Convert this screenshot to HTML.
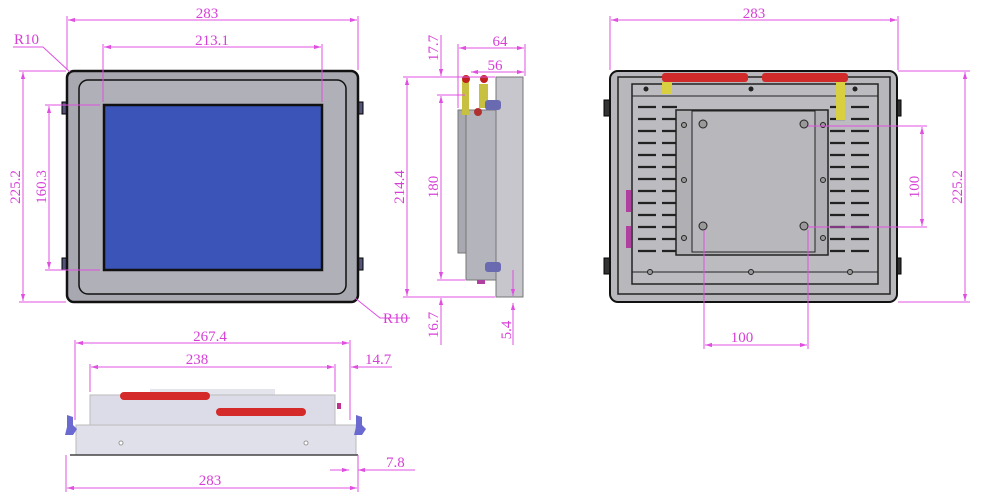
<!DOCTYPE html>
<html><head><meta charset="utf-8"><style>
html,body{margin:0;padding:0;background:#fff}
svg{display:block}
text{font-family:"Liberation Serif",serif;font-size:15px;fill:#d63fd6}
.d{stroke:#e050e0;stroke-width:1;fill:none}
</style></head><body>
<svg width="982" height="501" viewBox="0 0 982 501" xmlns="http://www.w3.org/2000/svg">
<defs>
<marker id="a" viewBox="0 0 10 10" refX="10" refY="5" markerWidth="7" markerHeight="7" orient="auto-start-reverse"><path d="M0,2 L10,5 L0,8z" fill="#e050e0"/></marker>
</defs>

<!-- FRONT VIEW -->
<rect x="62" y="102" width="6" height="12" fill="#55557a" stroke="#000"/>
<rect x="62" y="258" width="6" height="12" fill="#55557a" stroke="#000"/>
<rect x="357" y="102" width="6" height="12" fill="#55557a" stroke="#000"/>
<rect x="357" y="258" width="6" height="12" fill="#55557a" stroke="#000"/>
<rect x="67" y="71" width="291" height="231" rx="7" fill="#a8a8b0" stroke="#111" stroke-width="2.5"/>
<rect x="79" y="80" width="267" height="214" rx="9" fill="#b0b0b8" stroke="#111" stroke-width="1.5"/>
<rect x="104" y="105" width="218" height="165" fill="#3b54b8" stroke="#111" stroke-width="2.5"/>
<g class="d">
<line x1="67" y1="16" x2="67" y2="70"/><line x1="358" y1="16" x2="358" y2="70"/>
<line x1="68" y1="20" x2="357" y2="20" marker-start="url(#a)" marker-end="url(#a)"/>
<line x1="103" y1="44" x2="103" y2="102"/><line x1="322" y1="44" x2="322" y2="102"/>
<line x1="104" y1="47" x2="321" y2="47" marker-start="url(#a)" marker-end="url(#a)"/>
<line x1="19" y1="71" x2="66" y2="71"/><line x1="19" y1="302" x2="66" y2="302"/>
<line x1="23" y1="72" x2="23" y2="301" marker-start="url(#a)" marker-end="url(#a)"/>
<line x1="45" y1="105" x2="100" y2="105"/><line x1="45" y1="270" x2="100" y2="270"/>
<line x1="49" y1="106" x2="49" y2="269" marker-start="url(#a)" marker-end="url(#a)"/>
<polyline points="13,47 43,47 70,72"/>
<polyline points="355,298 380,318 410,318"/>
</g>
<text x="207" y="18" text-anchor="middle">283</text>
<text x="212" y="45" text-anchor="middle">213.1</text>
<text x="14" y="44">R10</text>
<text x="383" y="323">R10</text>
<text transform="translate(20,187) rotate(-90)" text-anchor="middle">225.2</text>
<text transform="translate(46,187) rotate(-90)" text-anchor="middle">160.3</text>

<!-- SIDE VIEW -->
<rect x="458" y="110" width="10" height="143" fill="#a8a8b0" stroke="#777"/>
<rect x="466" y="110" width="30" height="170" fill="#b4b4bc" stroke="#777"/>
<rect x="496" y="77" width="27" height="220" fill="#c6c6cc" stroke="#777"/>
<rect x="462" y="80" width="7" height="35" fill="#c8c040"/>
<rect x="479" y="84" width="9" height="24" fill="#c8c040"/>
<circle cx="466" cy="79" r="4" fill="#c02020"/>
<circle cx="484" cy="79" r="4" fill="#c02020"/>
<circle cx="478" cy="112" r="4" fill="#b03030"/>
<rect x="485" y="100" width="16" height="10" rx="3" fill="#6a6ab0"/>
<rect x="485" y="262" width="16" height="10" rx="3" fill="#6a6ab0"/>
<rect x="477" y="280" width="8" height="4" fill="#b040a0"/>
<g class="d">
<line x1="458" y1="44" x2="458" y2="108"/><line x1="525" y1="44" x2="525" y2="76"/>
<line x1="459" y1="48" x2="524" y2="48" marker-start="url(#a)" marker-end="url(#a)"/>
<line x1="471" y1="72" x2="524" y2="72" marker-start="url(#a)" marker-end="url(#a)"/>
<line x1="403" y1="77" x2="495" y2="77"/><line x1="403" y1="297" x2="495" y2="297"/>
<line x1="407" y1="78" x2="407" y2="296" marker-start="url(#a)" marker-end="url(#a)"/>
<line x1="437" y1="95" x2="465" y2="95"/><line x1="437" y1="280" x2="465" y2="280"/>
<line x1="441" y1="35" x2="441" y2="76" marker-end="url(#a)"/>
<line x1="441" y1="96" x2="441" y2="279" marker-start="url(#a)" marker-end="url(#a)"/>
<line x1="441" y1="298" x2="441" y2="345" marker-start="url(#a)"/>
<line x1="513" y1="270" x2="513" y2="296" marker-end="url(#a)"/>
<line x1="513" y1="303" x2="513" y2="345" marker-start="url(#a)"/>
</g>
<text x="500" y="46" text-anchor="middle">64</text>
<text x="495" y="70" text-anchor="middle">56</text>
<text transform="translate(438,48) rotate(-90)" text-anchor="middle">17.7</text>
<text transform="translate(404,187) rotate(-90)" text-anchor="middle">214.4</text>
<text transform="translate(438,187) rotate(-90)" text-anchor="middle">180</text>
<text transform="translate(438,325) rotate(-90)" text-anchor="middle">16.7</text>
<text transform="translate(511,330) rotate(-90)" text-anchor="middle">5.4</text>

<!-- BACK VIEW -->
<rect x="604" y="100" width="8" height="16" fill="#333" stroke="#000"/>
<rect x="604" y="258" width="8" height="16" fill="#333" stroke="#000"/>
<rect x="893" y="100" width="8" height="16" fill="#333" stroke="#000"/>
<rect x="893" y="258" width="8" height="16" fill="#333" stroke="#000"/>
<rect x="610" y="71" width="287" height="231" rx="8" fill="#b8b8bc" stroke="#111" stroke-width="2"/>
<rect x="618" y="77" width="272" height="217" fill="none" stroke="#222" stroke-width="1.5"/>
<rect x="632" y="84" width="246" height="200" fill="#bcbcc0" stroke="#222" stroke-width="1.5"/>
<line x1="632" y1="96" x2="878" y2="96" stroke="#222"/>
<line x1="632" y1="272" x2="878" y2="272" stroke="#222"/>
<g stroke="#222" stroke-width="2.2">
<path d="M638,107h18M662,107h15M638,119h18M662,119h15M638,131h18M662,131h15M638,143h18M662,143h15M638,155h18M662,155h15M638,167h18M662,167h15M638,179h18M662,179h15M638,191h18M662,191h15M638,203h18M662,203h15M638,215h18M662,215h15M638,227h18M662,227h15M638,239h18M662,239h15M638,251h18M662,251h15"/>
<path d="M830,107h15M851,107h18M830,119h15M851,119h18M830,131h15M851,131h18M830,143h15M851,143h18M830,155h15M851,155h18M830,167h15M851,167h18M830,179h15M851,179h18M830,191h15M851,191h18M830,203h15M851,203h18M830,215h15M851,215h18M830,227h15M851,227h18M830,239h15M851,239h18M830,251h15M851,251h18"/>
</g>
<rect x="676" y="110" width="152" height="145" fill="#b0b0b4" stroke="#222" stroke-width="1.5"/>
<rect x="692" y="111" width="123" height="141" fill="#b8b8bc" stroke="#222"/>
<g fill="#999" stroke="#222">
<circle cx="703" cy="124" r="4"/><circle cx="804" cy="124" r="4"/><circle cx="703" cy="226" r="4"/><circle cx="804" cy="226" r="4"/>
<circle cx="684" cy="125" r="2.5"/><circle cx="684" cy="180" r="2.5"/><circle cx="684" cy="238" r="2.5"/>
<circle cx="823" cy="125" r="2.5"/><circle cx="823" cy="180" r="2.5"/><circle cx="823" cy="238" r="2.5"/>
<circle cx="650" cy="272" r="2.5"/><circle cx="751" cy="272" r="2.5"/><circle cx="850" cy="272" r="2.5"/>
</g>
<g fill="#222"><circle cx="646" cy="89" r="2.5"/><circle cx="751" cy="89" r="2.5"/><circle cx="855" cy="89" r="2.5"/></g>
<rect x="662" y="73" width="86" height="9" rx="3" fill="#d02a2a"/>
<rect x="762" y="73" width="86" height="9" rx="3" fill="#d02a2a"/>
<rect x="662" y="82" width="10" height="12" fill="#d8d040"/>
<rect x="836" y="82" width="9" height="38" fill="#d8d040"/>
<rect x="626" y="190" width="5" height="22" fill="#b040a0"/>
<rect x="626" y="226" width="5" height="22" fill="#b040a0"/>
<g class="d">
<line x1="610" y1="16" x2="610" y2="70"/><line x1="898" y1="16" x2="898" y2="70"/>
<line x1="611" y1="20" x2="897" y2="20" marker-start="url(#a)" marker-end="url(#a)"/>
<line x1="898" y1="71" x2="970" y2="71"/><line x1="898" y1="302" x2="970" y2="302"/>
<line x1="965" y1="72" x2="965" y2="301" marker-start="url(#a)" marker-end="url(#a)"/>
<line x1="808" y1="126" x2="927" y2="126"/><line x1="808" y1="227" x2="927" y2="227"/>
<line x1="922" y1="127" x2="922" y2="226" marker-start="url(#a)" marker-end="url(#a)"/>
<line x1="704" y1="230" x2="704" y2="349"/><line x1="808" y1="230" x2="808" y2="349"/>
<line x1="705" y1="345" x2="807" y2="345" marker-start="url(#a)" marker-end="url(#a)"/>
</g>
<text x="754" y="18" text-anchor="middle">283</text>
<text x="742" y="342" text-anchor="middle">100</text>
<text transform="translate(962,187) rotate(-90)" text-anchor="middle">225.2</text>
<text transform="translate(919,187) rotate(-90)" text-anchor="middle">100</text>

<!-- BOTTOM VIEW -->
<rect x="150" y="389" width="125" height="6" fill="#e4e4ec"/>
<rect x="90" y="395" width="245" height="30" fill="#dcdce8" stroke="#bbb"/>
<rect x="76" y="425" width="280" height="30" fill="#e0e0ea" stroke="#bbb"/>
<line x1="70" y1="455" x2="358" y2="455" stroke="#444" stroke-width="1.5"/>
<rect x="120" y="392" width="90" height="8" rx="4" fill="#d42a2a"/>
<rect x="216" y="408" width="90" height="8" rx="4" fill="#d42a2a"/>
<rect x="337" y="403" width="4" height="6" fill="#c03090"/>
<path d="M67,415 l6,2 l0,8 l4,4 l-4,6 l-8,0 l2,-8 z" fill="#6a6ad0"/>
<path d="M356,415 l6,2 l0,8 l4,4 l-4,6 l-8,0 l2,-8 z" fill="#6a6ad0"/>
<circle cx="121" cy="443" r="2" fill="#fff" stroke="#999"/>
<circle cx="306" cy="443" r="2" fill="#fff" stroke="#999"/>
<g class="d">
<line x1="75" y1="340" x2="75" y2="420"/><line x1="350" y1="340" x2="350" y2="420"/>
<line x1="76" y1="343" x2="349" y2="343" marker-start="url(#a)" marker-end="url(#a)"/>
<line x1="90" y1="364" x2="90" y2="392"/><line x1="335" y1="364" x2="335" y2="392"/>
<line x1="91" y1="367" x2="334" y2="367" marker-start="url(#a)" marker-end="url(#a)"/>
<line x1="351" y1="367" x2="392" y2="367" marker-start="url(#a)"/>
<line x1="66" y1="455" x2="66" y2="492"/><line x1="358" y1="455" x2="358" y2="492"/>
<line x1="67" y1="488" x2="357" y2="488" marker-start="url(#a)" marker-end="url(#a)"/>
<line x1="330" y1="470" x2="349" y2="470" marker-end="url(#a)"/>
<line x1="358" y1="470" x2="415" y2="470" marker-start="url(#a)"/>
</g>
<text x="210" y="341" text-anchor="middle">267.4</text>
<text x="197" y="364" text-anchor="middle">238</text>
<text x="365" y="364">14.7</text>
<text x="210" y="485" text-anchor="middle">283</text>
<text x="386" y="467">7.8</text>
</svg>
</body></html>
